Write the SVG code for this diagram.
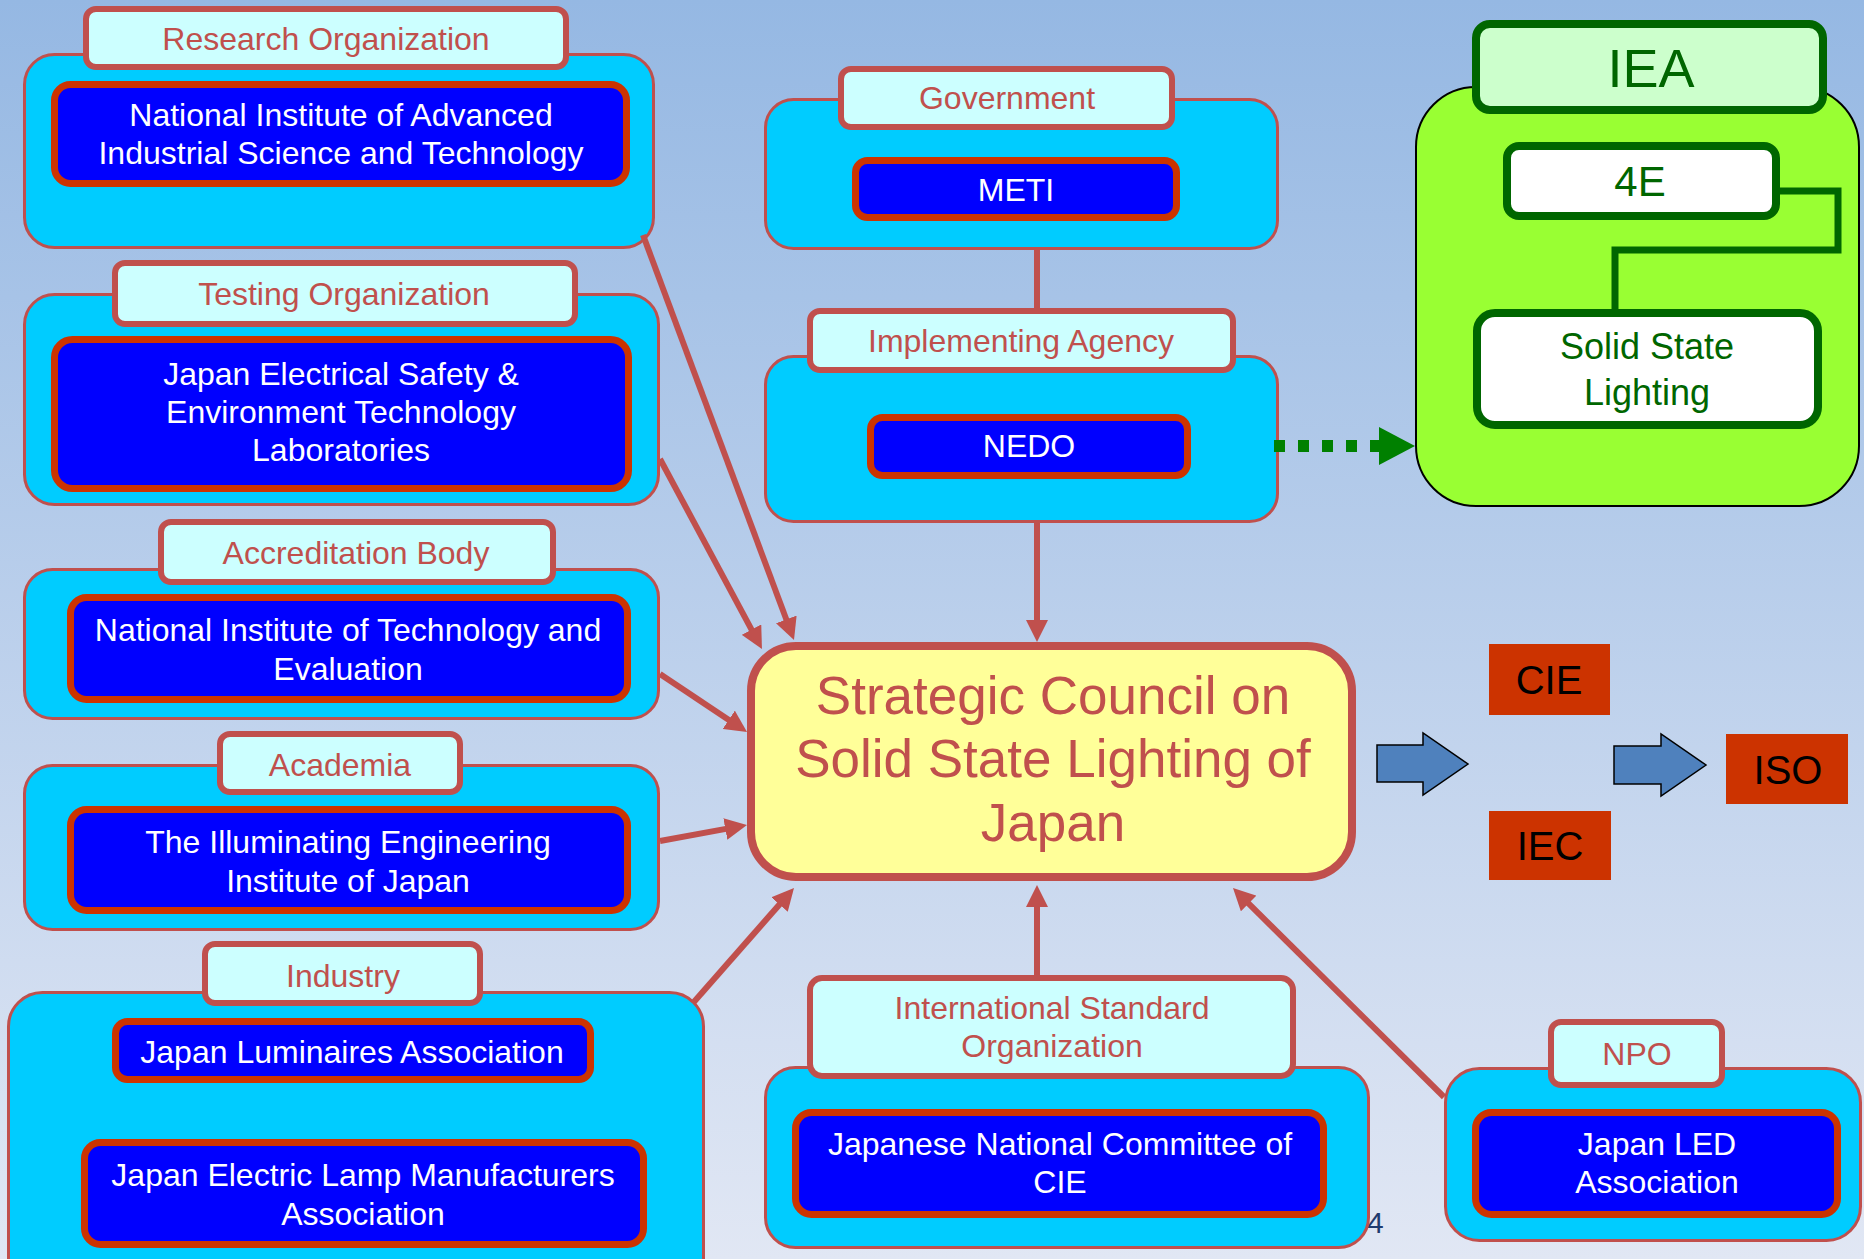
<svg xmlns="http://www.w3.org/2000/svg" width="1864" height="1259" viewBox="0 0 1864 1259">
<defs>
<linearGradient id="bg" x1="0" y1="0" x2="0" y2="1">
<stop offset="0" stop-color="#95b8e3"/>
<stop offset="1" stop-color="#e1e7f4"/>
</linearGradient>
<marker id="ah" markerUnits="userSpaceOnUse" markerWidth="22" markerHeight="22" refX="2" refY="11" orient="auto">
<path d="M0,0 L22,11 L0,22 z" fill="#c0504d"/>
</marker>
</defs>
<style>
.outer{fill:#00ccff;stroke:#c0504d;stroke-width:3}
.label{fill:#ccffff;stroke:#c0504d;stroke-width:6}
.inner{fill:#0000ff;stroke:#cc3300;stroke-width:7}
.t{font-family:"Liberation Sans",Arial,sans-serif;font-size:32px;text-anchor:middle}
.lt{fill:#c0504d}
.wt{fill:#ffffff}
.conn{stroke:#c0504d;stroke-width:6;fill:none}
.std{fill:#cc3300}
.stdt{font-family:"Liberation Sans",Arial,sans-serif;font-size:40px;text-anchor:middle;fill:#000000}
.blk{fill:#4f81bd;stroke:#000000;stroke-width:1.5}
.gbox{fill:#ffffff;stroke:#006600;stroke-width:8}
.gt{font-family:"Liberation Sans",Arial,sans-serif;text-anchor:middle;fill:#006600}
</style>
<rect x="0" y="0" width="1864" height="1259" fill="url(#bg)"/>
<text x="1367" y="1233" font-family="Liberation Sans, Arial, sans-serif" font-size="30" fill="#1f3a6e">4</text>

<g id="research">
<rect class="outer" x="24.5" y="54.5" width="629" height="193" rx="30"/>
<rect class="label" x="86" y="9" width="480" height="58" rx="10"/>
<text class="t lt" x="326" y="50">Research Organization</text>
<rect class="inner" x="54.5" y="84.5" width="572" height="99" rx="16"/>
<text class="t wt" x="341" y="126">National Institute of Advanced</text>
<text class="t wt" x="341" y="164">Industrial Science and Technology</text>
</g>

<g id="testing">
<rect class="outer" x="24.5" y="294.5" width="634" height="210" rx="30"/>
<rect class="label" x="115" y="263" width="460" height="61" rx="10"/>
<text class="t lt" x="344" y="305">Testing Organization</text>
<rect class="inner" x="54.5" y="339.5" width="574" height="149" rx="18"/>
<text class="t wt" x="341" y="385">Japan Electrical Safety &amp;</text>
<text class="t wt" x="341" y="423">Environment Technology</text>
<text class="t wt" x="341" y="461">Laboratories</text>
</g>

<g id="accreditation">
<rect class="outer" x="24.5" y="569.5" width="634" height="149" rx="28"/>
<rect class="label" x="161" y="522" width="392" height="60" rx="10"/>
<text class="t lt" x="356" y="564">Accreditation Body</text>
<rect class="inner" x="70.5" y="597.5" width="557" height="102" rx="16"/>
<text class="t wt" x="348" y="641">National Institute of Technology and</text>
<text class="t wt" x="348" y="680">Evaluation</text>
</g>

<g id="academia">
<rect class="outer" x="24.5" y="765.5" width="634" height="164" rx="28"/>
<rect class="label" x="220" y="734" width="240" height="58" rx="10"/>
<text class="t lt" x="340" y="776">Academia</text>
<rect class="inner" x="70.5" y="809.5" width="557" height="101" rx="16"/>
<text class="t wt" x="348" y="853">The Illuminating Engineering</text>
<text class="t wt" x="348" y="892">Institute of Japan</text>
</g>

<g id="industry">
<rect class="outer" x="8.5" y="992.5" width="695" height="300" rx="34"/>
<rect class="label" x="205" y="944" width="275" height="59" rx="10"/>
<text class="t lt" x="343" y="987">Industry</text>
<rect class="inner" x="115.5" y="1021.5" width="475" height="58" rx="12"/>
<text class="t wt" x="352" y="1063">Japan Luminaires Association</text>
<rect class="inner" x="84.5" y="1142.5" width="559" height="102" rx="16"/>
<text class="t wt" x="363" y="1186">Japan Electric Lamp Manufacturers</text>
<text class="t wt" x="363" y="1225">Association</text>
</g>

<g id="government">
<rect class="outer" x="765.5" y="99.5" width="512" height="149" rx="28"/>
<rect class="label" x="841" y="69" width="331" height="58" rx="10"/>
<text class="t lt" x="1007" y="109">Government</text>
<rect class="inner" x="855.5" y="160.5" width="321" height="57" rx="12"/>
<text class="t wt" x="1016" y="201">METI</text>
</g>

<g id="implementing">
<rect class="outer" x="765.5" y="356.5" width="512" height="165" rx="28"/>
<rect class="label" x="810" y="311" width="423" height="59" rx="10"/>
<text class="t lt" x="1021" y="352">Implementing Agency</text>
<rect class="inner" x="870.5" y="417.5" width="317" height="58" rx="12"/>
<text class="t wt" x="1029" y="457">NEDO</text>
</g>

<g id="council">
<rect x="751" y="646" width="601" height="231" rx="45" fill="#ffff99" stroke="#c0504d" stroke-width="8"/>
<text class="t lt" x="1053" y="714" font-size="53" style="font-size:53px">Strategic Council on</text>
<text class="t lt" x="1053" y="777" style="font-size:53px">Solid State Lighting of</text>
<text class="t lt" x="1053" y="841" style="font-size:53px">Japan</text>
</g>

<g id="intl-standard">
<rect class="outer" x="765.5" y="1067.5" width="603" height="180" rx="30"/>
<rect class="label" x="810" y="978" width="483" height="98" rx="12"/>
<text class="t lt" x="1052" y="1019">International Standard</text>
<text class="t lt" x="1052" y="1057">Organization</text>
<rect class="inner" x="795.5" y="1112.5" width="528" height="102" rx="16"/>
<text class="t wt" x="1060" y="1155">Japanese National Committee of</text>
<text class="t wt" x="1060" y="1193">CIE</text>
</g>

<g id="npo">
<rect class="outer" x="1445.5" y="1068.5" width="415" height="172" rx="34"/>
<rect class="label" x="1551" y="1022" width="171" height="63" rx="10"/>
<text class="t lt" x="1637" y="1065">NPO</text>
<rect class="inner" x="1475.5" y="1112.5" width="362" height="102" rx="16"/>
<text class="t wt" x="1657" y="1155">Japan LED</text>
<text class="t wt" x="1657" y="1193">Association</text>
</g>

<g id="iea">
<rect x="1416" y="87" width="443" height="419" rx="60" fill="#99ff33" stroke="#000000" stroke-width="2"/>
<rect x="1476" y="24" width="347" height="86" rx="14" fill="#ccffcc" stroke="#006600" stroke-width="8"/>
<text class="gt" x="1651" y="87" style="font-size:54px">IEA</text>
<rect class="gbox" x="1507" y="146" width="269" height="70" rx="12"/>
<text class="gt" x="1640" y="196" style="font-size:42px">4E</text>
<rect class="gbox" x="1477" y="313" width="341" height="112" rx="18"/>
<text class="gt" x="1647" y="359" style="font-size:36px">Solid State</text>
<text class="gt" x="1647" y="405" style="font-size:36px">Lighting</text>
<path d="M1780,191 H1838 V250 H1615 V309" fill="none" stroke="#006600" stroke-width="7"/>
</g>

<g id="cie">
<rect class="std" x="1489" y="644" width="121" height="71"/>
<text class="stdt" x="1549" y="694">CIE</text>
</g>
<g id="iec">
<rect class="std" x="1489" y="811" width="122" height="69"/>
<text class="stdt" x="1550" y="860">IEC</text>
</g>
<g id="iso">
<rect class="std" x="1726" y="734" width="122" height="70"/>
<text class="stdt" x="1788" y="784">ISO</text>
</g>

<g id="connectors">
<line class="conn" x1="643" y1="235" x2="787" y2="621.3" marker-end="url(#ah)"/>
<line class="conn" x1="660" y1="459" x2="752.5" y2="631.4" marker-end="url(#ah)"/>
<line class="conn" x1="660" y1="674" x2="730.4" y2="720.9" marker-end="url(#ah)"/>
<line class="conn" x1="660" y1="841" x2="727.3" y2="828.6" marker-end="url(#ah)"/>
<line class="conn" x1="693" y1="1003" x2="780.8" y2="903" marker-end="url(#ah)"/>
<line class="conn" x1="1037" y1="523" x2="1037" y2="622" marker-end="url(#ah)"/>
<line class="conn" x1="1037" y1="975" x2="1037" y2="905" marker-end="url(#ah)"/>
<line class="conn" x1="1444" y1="1097" x2="1247.2" y2="902.1" marker-end="url(#ah)"/>
<line class="conn" x1="1037" y1="250" x2="1037" y2="309"/>
<line x1="1274" y1="446" x2="1381" y2="446" stroke="#008000" stroke-width="12" stroke-dasharray="11 13"/>
<polygon points="1379,427 1415,446 1379,465" fill="#008000"/>
<polygon class="blk" points="1377,745 1423,745 1423,733 1468,764 1423,795 1423,782 1377,782"/>
<polygon class="blk" points="1614,746 1661,746 1661,734 1706,765 1661,796 1661,784 1614,784"/>
</g>
</svg>
